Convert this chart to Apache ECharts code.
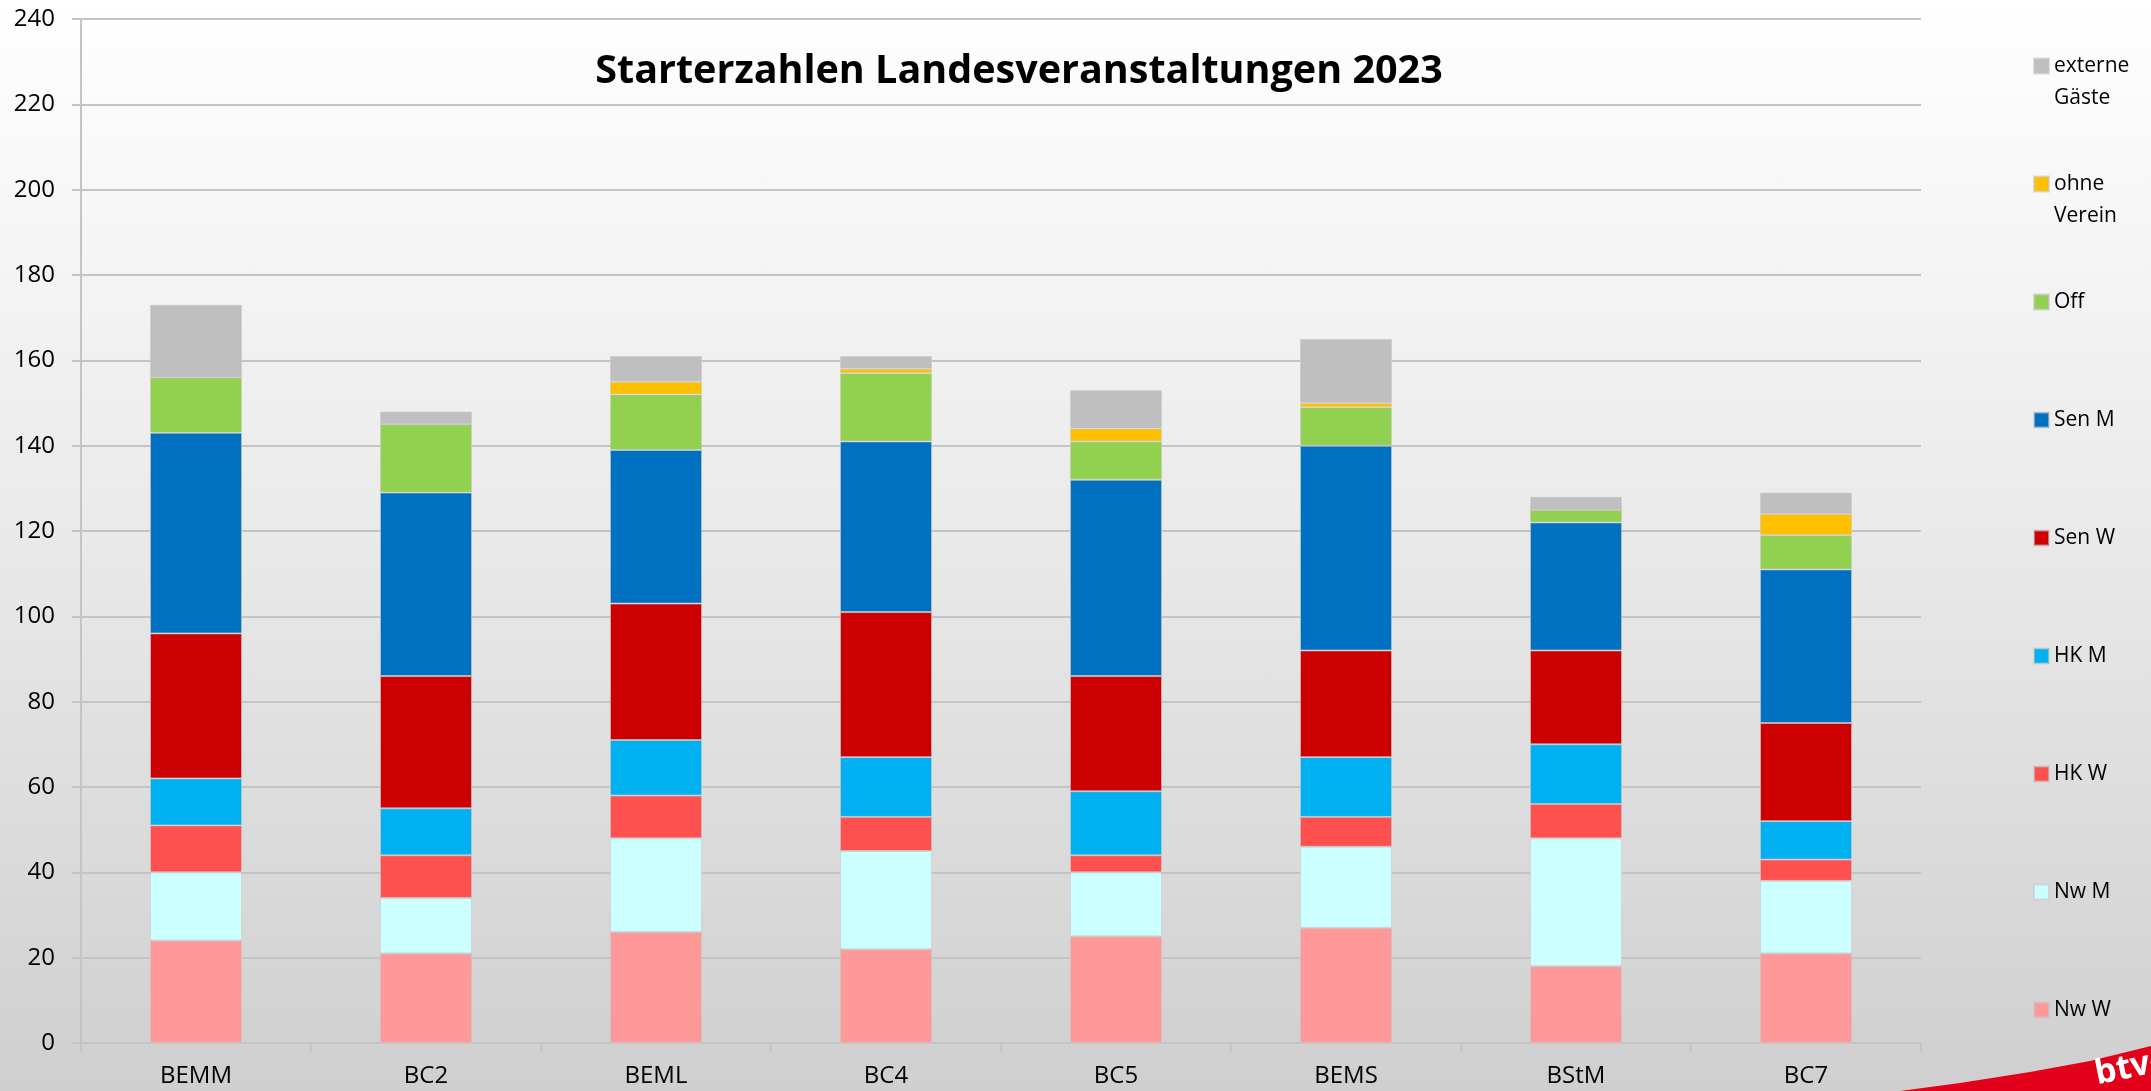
<!DOCTYPE html>
<html>
<head>
<meta charset="utf-8">
<script src="https://cdn.jsdelivr.net/npm/echarts@6/dist/echarts.min.js"></script>
<style>
  html, body { margin: 0; padding: 0; }
  #chart { width: 2151px; height: 1091px; background: linear-gradient(to bottom, #ffffff 0%, #e9e9e9 50%, #cfcfcf 100%); }
</style>
</head>
<body>
<div id="chart"></div>
<script>
const categories = ['BEMM', 'BC2', 'BEML', 'BC4', 'BC5', 'BEMS', 'BStM', 'BC7'];
const yTicks = [0, 20, 40, 60, 80, 100, 120, 140, 160, 180, 200, 220, 240];

const nwW    = [24, 21, 26, 22, 25, 27, 18, 21];
const nwM    = [16, 13, 22, 23, 15, 19, 30, 17];
const hkW    = [11, 10, 10,  8,  4,  7,  8,  5];
const hkM    = [11, 11, 13, 14, 15, 14, 14,  9];
const senW   = [34, 31, 32, 34, 27, 25, 22, 23];
const senM   = [47, 43, 36, 40, 46, 48, 30, 36];
const off    = [13, 16, 13, 16,  9,  9,  3,  8];
const ohne   = [ 0,  0,  3,  1,  3,  1,  0,  5];
const extern = [17,  3,  6,  3,  9, 15,  3,  5];

const seriesDefs = [
  { name: 'Nw W', data: nwW, color: '#FF9999' },
  { name: 'Nw M', data: nwM, color: '#CCFFFF' },
  { name: 'HK W', data: hkW, color: '#FF5050' },
  { name: 'HK M', data: hkM, color: '#00B0F0' },
  { name: 'Sen W', data: senW, color: '#CC0000' },
  { name: 'Sen M', data: senM, color: '#0070C0' },
  { name: 'Off', data: off, color: '#92D050' },
  { name: 'ohne Verein', data: ohne, color: '#FFC000' },
  { name: 'externe Gäste', data: extern, color: '#BFBFBF' }
];

const FONT = '"Open Sans", "DejaVu Sans", sans-serif';
const L = 32;
const legendOrder = ['externe Gäste', 'ohne Verein', 'Off', 'Sen M', 'Sen W', 'HK M', 'HK W', 'Nw M', 'Nw W'];
const legendLabels = {
  'externe Gäste': '\u00a0\nexterne\nGäste',
  'ohne Verein': '\u00a0\nohne\nVerein'
};

const chart = echarts.init(document.getElementById('chart'), null, { renderer: 'canvas' });
chart.setOption({
  backgroundColor: 'transparent',
  animation: false,
  title: {
    text: 'Starterzahlen Landesveranstaltungen 2023',
    left: 1014,
    top: 47,
    textAlign: 'center',
    textStyle: { fontFamily: FONT, fontWeight: 'bold', fontSize: 39.5, color: '#000' }
  },
  legend: {
    orient: 'vertical',
    left: 2028,
    top: 13,
    itemWidth: 15,
    itemHeight: 15,
    itemGap: 22,
    icon: 'rect',
    data: legendOrder,
    formatter: n => legendLabels[n] || ('\u00a0\n' + n + '\n\u00a0'),
    textStyle: { fontFamily: FONT, fontSize: 21, color: '#000', lineHeight: L }
  },
  grid: { left: 81, right: 230, top: 19, bottom: 48, containLabel: false },
  xAxis: {
    type: 'category',
    data: categories,
    axisLine: { show: true, lineStyle: { color: '#c4c4c4', width: 2 } },
    axisTick: { show: true, length: 9, lineStyle: { color: '#c4c4c4', width: 2 } },
    axisLabel: { fontFamily: FONT, fontSize: 24, color: '#000', margin: 21 }
  },
  yAxis: {
    type: 'value',
    min: 0,
    max: 240,
    interval: 20,
    axisLine: { show: true, lineStyle: { color: '#c4c4c4', width: 2 } },
    axisTick: { show: true, length: 9, lineStyle: { color: '#c4c4c4', width: 2 } },
    splitLine: { show: true, lineStyle: { color: '#c4c4c4', width: 2 } },
    axisLabel: { fontFamily: FONT, fontSize: 24, color: '#000', margin: 26,
      formatter: v => yTicks.indexOf(v) >= 0 ? String(v) : '' }
  },
  series: seriesDefs.map(s => ({
    name: s.name,
    type: 'bar',
    stack: 'total',
    barCategoryGap: '60%',
    data: s.data,
    itemStyle: { color: s.color, borderColor: 'rgba(200,200,200,0.6)', borderWidth: 1 }
  })),
  graphic: [
    {
      type: 'polygon',
      shape: { points: [[1900, 1091], [1960, 1083], [2030, 1072], [2090, 1061], [2151, 1046], [2151, 1091]] },
      style: { fill: '#E2001A' },
      z: 100
    },
    {
      type: 'text',
      x: 2092, y: 1058,
      rotation: 0.2,
      style: { text: 'btv-', fill: '#fff', fontFamily: FONT, fontWeight: 'bold', fontSize: 34, textVerticalAlign: 'top' },
      z: 101
    }
  ]
});
</script>
</body>
</html>
